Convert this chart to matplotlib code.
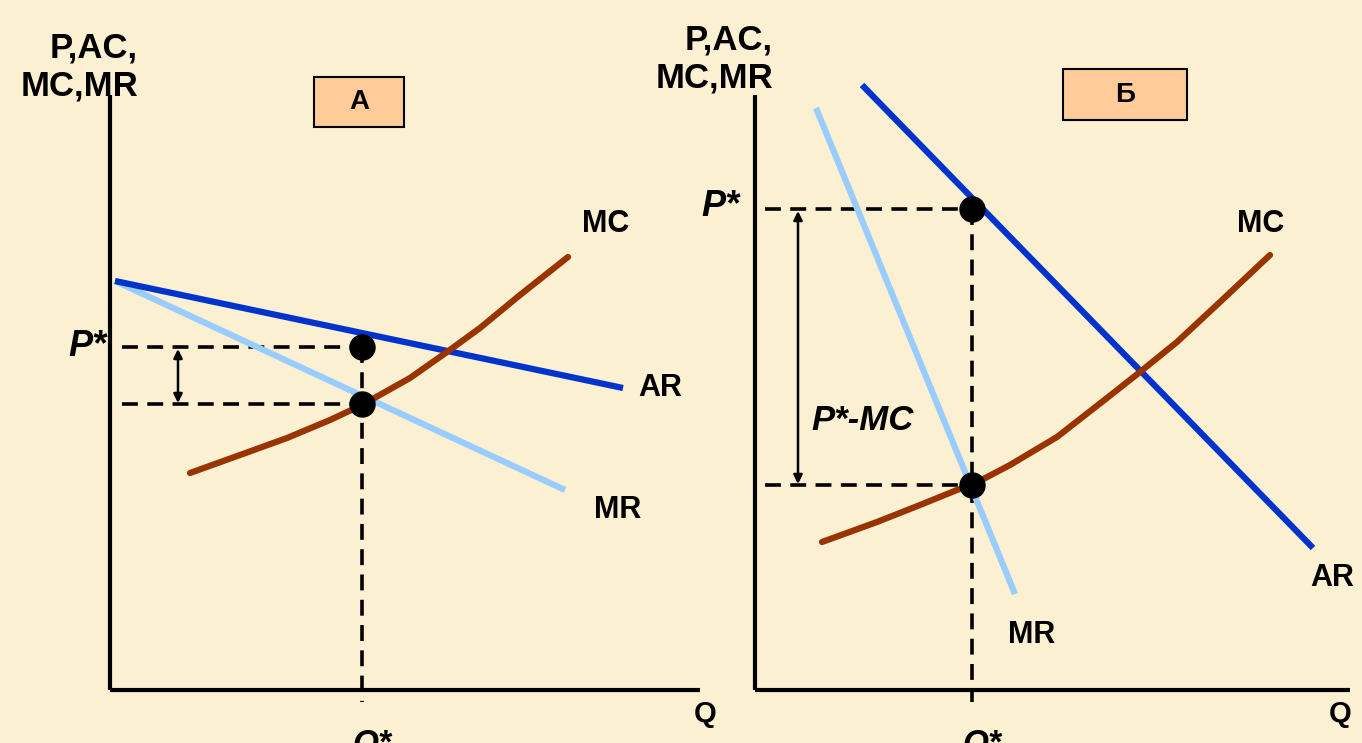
import matplotlib.pyplot as plt
from matplotlib.patches import Rectangle

# panel A (А): quantities / prices measured from the axis origin
a_ar_q = [5, 513]
a_ar_p = [409, 302]
a_mr_q = [5, 455]
a_mr_p = [409, 200]
a_mc_q = [80, 130, 177, 220, 252, 300, 337, 370, 410, 458]
a_mc_p = [217, 235, 252, 270, 285, 312, 338, 362, 395, 433]
a_qstar, a_pstar, a_mcstar = 252, 343, 286

# panel B (Б)
b_ar_q = [107, 558]
b_ar_p = [605, 142]
b_mr_q = [61, 260]
b_mr_p = [582, 96]
b_mc_q = [67, 122, 165, 202, 217, 255, 302, 352, 385, 422, 465, 515]
b_mc_p = [148, 168, 185, 200, 205, 225, 253, 292, 318, 348, 388, 435]
b_qstar, b_pstar, b_mcstar = 217, 481, 205

BG = '#fcf0d3'
AR_C = '#0033cc'
MR_C = '#99ccff'
MC_C = '#993300'
FONT = ['Liberation Sans', 'DejaVu Sans']

fig = plt.figure(figsize=(13.62, 7.43), dpi=100)
fig.patch.set_facecolor(BG)


def panel(x0, y0, xlen, ylen):
    ax = fig.add_axes([x0 / 1362, (743 - y0) / 743, 600 / 1362, 600 / 743])
    ax.set_xlim(0, 600)
    ax.set_ylim(0, 600)
    ax.axis('off')
    ax.plot([0, 0], [0, ylen], color='black', lw=3, clip_on=False, solid_capstyle='butt')
    ax.plot([0, xlen], [0, 0], color='black', lw=3, clip_on=False, solid_capstyle='butt')
    return ax


def txt(ax, x, y, s, size=20, style='normal', **kw):
    ax.text(x, y, s, fontsize=size, fontweight='bold', fontstyle=style,
            family=FONT, ha=kw.pop('ha', 'center'), va=kw.pop('va', 'center'), **kw)


def draw(ax, arq, arp, mrq, mrp, mcq, mcp, qs, ps, ms, arrow_x, dash_x0):
    dash = dict(color='black', lw=2.6, dashes=(4.4, 2.6), clip_on=False)
    ax.plot([dash_x0, qs], [ps, ps], **dash)
    ax.plot([dash_x0, qs], [ms, ms], **dash)
    ax.plot([qs, qs], [ps, -12], **dash)
    ax.plot(mrq, mrp, color=MR_C, lw=4.5, clip_on=False, solid_capstyle='butt')
    ax.plot(arq, arp, color=AR_C, lw=4.5, clip_on=False, solid_capstyle='butt')
    ax.plot(mcq, mcp, color=MC_C, lw=4.5, clip_on=False,
            solid_capstyle='round', solid_joinstyle='round')
    ax.plot([qs, qs], [ps, ms], 'o', color='black', ms=18, clip_on=False)
    ax.annotate('', xy=(arrow_x, ms + 1), xytext=(arrow_x, ps - 2),
                arrowprops=dict(arrowstyle='<|-|>', color='black', lw=1.8,
                                mutation_scale=13, shrinkA=0, shrinkB=0))


# ---- panel A
ax1 = panel(110, 690, 590, 595)
draw(ax1, a_ar_q, a_ar_p, a_mr_q, a_mr_p, a_mc_q, a_mc_p,
     a_qstar, a_pstar, a_mcstar, 68, 12)
txt(ax1, 28, 623, 'P,AC,\nMC,MR', size=25, ha='right', ma='right', linespacing=1.2)
ax1.add_patch(Rectangle((204, 563), 90, 50, facecolor='#ffcc99',
                        edgecolor='black', lw=1.5, clip_on=False))
txt(ax1, 249, 588, 'А', size=20)
txt(ax1, -23, 344, 'P*', size=26, style='italic')
txt(ax1, 496, 466, 'MC', size=22)
txt(ax1, 550, 302, 'AR', size=22)
txt(ax1, 508, 180, 'MR', size=22)
txt(ax1, 595, -24, 'Q', size=21)
txt(ax1, 262, -54, 'Q*', size=24, style='italic')

# ---- panel B
ax2 = panel(755, 690, 595, 595)
draw(ax2, b_ar_q, b_ar_p, b_mr_q, b_mr_p, b_mc_q, b_mc_p,
     b_qstar, b_pstar, b_mcstar, 43, 10)
txt(ax2, 18, 631, 'P,AC,\nMC,MR', size=25, ha='right', ma='right', linespacing=1.2)
ax2.add_patch(Rectangle((308, 570), 124, 51, facecolor='#ffcc99',
                        edgecolor='black', lw=1.5, clip_on=False))
txt(ax2, 370, 595, 'Б', size=20)
txt(ax2, -35, 484, 'P*', size=26, style='italic')
txt(ax2, 108, 269, 'P*-MC', size=25, style='italic')
txt(ax2, 506, 466, 'MC', size=22)
txt(ax2, 577, 112, 'AR', size=22)
txt(ax2, 277, 55, 'MR', size=22)
txt(ax2, 585, -24, 'Q', size=21)
txt(ax2, 227, -54, 'Q*', size=24, style='italic')

fig.savefig('out.png', dpi=100, facecolor=BG)
